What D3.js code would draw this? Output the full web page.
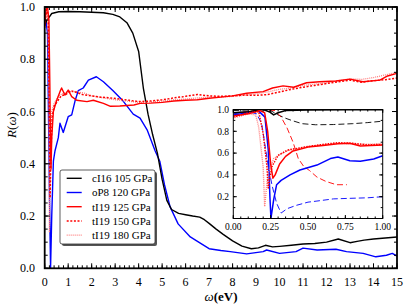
<!DOCTYPE html>
<html>
<head>
<meta charset="utf-8">
<script src="https://cdn.jsdelivr.net/npm/d3@7"></script>
<style>
  body { margin: 0; background: #fff; }
  svg { font-family: "Liberation Serif", serif; }
</style>
</head>
<body>
<svg width="407" height="304"></svg>
<script>
// main panel series, [omega (eV), R]
var cI16_105 = [[0,0.93],[0.1,0.95],[0.3,0.975],[0.6,0.982],[1,0.983],[1.5,0.982],[2,0.98],[2.5,0.978],[2.9,0.972],[3.2,0.962],[3.5,0.94],[3.75,0.9],[4.0,0.83],[4.2,0.69],[4.4,0.59],[4.6,0.51],[4.8,0.44],[5.0,0.34],[5.2,0.26],[5.4,0.225],[5.7,0.21],[6.0,0.205],[6.3,0.2],[6.6,0.196],[6.8,0.186],[7.0,0.172],[7.3,0.15],[7.6,0.13],[8.0,0.105],[8.4,0.085],[8.8,0.075],[9.1,0.078],[9.4,0.088],[9.7,0.082],[10,0.084],[10.5,0.088],[11,0.093],[11.5,0.095],[12,0.1],[12.5,0.112],[13,0.098],[13.3,0.103],[13.6,0.108],[14,0.112],[14.5,0.116],[15,0.12]];
var oP8_120 = [[0,0.93],[0.05,0.95],[0.12,0.9],[0.2,0.3],[0.25,0.0],[0.3,0.2],[0.37,0.41],[0.44,0.45],[0.58,0.5],[0.65,0.555],[0.79,0.52],[1.0,0.58],[1.15,0.587],[1.29,0.64],[1.43,0.68],[1.64,0.69],[1.86,0.72],[2.2,0.733],[2.5,0.714],[2.9,0.68],[3.34,0.64],[3.77,0.59],[4.06,0.575],[4.36,0.53],[4.7,0.45],[4.9,0.41],[5.1,0.32],[5.34,0.235],[5.68,0.17],[6.2,0.12],[6.47,0.105],[7.0,0.075],[7.5,0.068],[7.9,0.064],[8.6,0.055],[9.3,0.064],[9.45,0.07],[10,0.057],[10.7,0.064],[11,0.077],[11.6,0.07],[12.4,0.073],[12.85,0.064],[13.56,0.057],[14.1,0.044],[14.55,0.05],[14.8,0.057],[15,0.047]];
var tI19_125 = [[0,0.92],[0.06,0.99],[0.12,1.0],[0.18,0.95],[0.22,0.7],[0.25,0.45],[0.27,0.38],[0.3,0.5],[0.37,0.6],[0.5,0.64],[0.65,0.676],[0.72,0.69],[0.86,0.663],[1.0,0.682],[1.15,0.657],[1.36,0.643],[1.8,0.638],[2.07,0.643],[2.5,0.631],[2.8,0.62],[3.2,0.621],[3.8,0.625],[4.06,0.631],[4.5,0.632],[5.0,0.635],[5.5,0.64],[6.0,0.643],[6.5,0.645],[7.0,0.651],[7.5,0.655],[8.0,0.66],[8.6,0.67],[9.3,0.676],[9.7,0.69],[10.15,0.698],[10.6,0.693],[11.15,0.71],[11.7,0.714],[12.4,0.717],[13,0.724],[13.55,0.714],[14.27,0.72],[14.6,0.736],[15,0.746]];
var tI19_150 = [[0,0.93],[0.08,0.99],[0.15,0.97],[0.2,0.55],[0.23,0.27],[0.27,0.45],[0.32,0.58],[0.4,0.62],[0.55,0.64],[0.7,0.66],[0.9,0.665],[1.1,0.68],[1.3,0.675],[1.6,0.665],[2.0,0.66],[2.4,0.655],[2.8,0.652],[3.2,0.648],[3.6,0.643],[4.0,0.638],[4.5,0.64],[5.0,0.645],[5.5,0.652],[6.0,0.658],[6.5,0.665],[7.0,0.66],[7.5,0.658],[8.0,0.66],[8.5,0.663],[9.0,0.662],[9.5,0.665],[10,0.675],[10.5,0.685],[11,0.693],[11.5,0.7],[12,0.707],[12.5,0.714],[13,0.72],[13.5,0.712],[14,0.718],[14.5,0.722],[15,0.728]];
var tI19_180 = [[0,0.93],[0.05,0.98],[0.12,0.98],[0.17,0.7],[0.2,0.14],[0.24,0.45],[0.3,0.6],[0.4,0.63],[0.6,0.66],[0.8,0.67],[1.0,0.675],[1.36,0.676],[1.7,0.67],[2.0,0.66],[2.5,0.652],[3.0,0.645],[3.5,0.64],[4.0,0.635],[4.5,0.636],[5,0.64],[5.5,0.645],[6,0.648],[6.5,0.652],[7,0.655],[7.5,0.655],[8,0.658],[8.5,0.662],[9,0.668],[9.5,0.675],[10,0.685],[10.5,0.69],[11,0.7],[11.5,0.705],[12,0.71],[12.5,0.718],[13,0.725],[13.5,0.723],[14,0.73],[14.5,0.74],[15,0.75]];

// inset series (0 - 1 eV)
var insBlackSolid = [[0,0.97],[0.1,0.98],[0.15,0.99],[0.2,1.0],[0.24,0.98],[0.27,0.95],[0.3,0.97],[0.35,0.99],[0.5,0.995],[0.75,0.997],[1.0,0.998]];
var insBlackDash = [[0,0.99],[0.1,0.995],[0.2,1.0],[0.25,0.99],[0.3,0.95],[0.35,0.92],[0.39,0.9],[0.46,0.87],[0.55,0.86],[0.67,0.862],[0.8,0.87],[0.9,0.88],[1.0,0.893]];
var insBlueSolid = [[0,0.95],[0.1,0.97],[0.167,0.99],[0.212,0.93],[0.234,0.63],[0.245,0.2],[0.252,0.0],[0.27,0.17],[0.29,0.31],[0.32,0.35],[0.38,0.4],[0.446,0.445],[0.56,0.49],[0.65,0.55],[0.7,0.565],[0.78,0.53],[0.85,0.525],[0.94,0.546],[1.0,0.575]];
var insBlueDash = [[0,0.96],[0.1,0.98],[0.157,0.96],[0.19,0.87],[0.21,0.69],[0.234,0.48],[0.26,0.3],[0.29,0.14],[0.32,0.05],[0.36,0.09],[0.42,0.12],[0.5,0.15],[0.56,0.16],[0.67,0.18],[0.78,0.185],[0.9,0.19],[1.0,0.2]];
var insRedSolid = [[0,0.94],[0.1,0.96],[0.18,0.99],[0.21,0.97],[0.23,0.8],[0.25,0.5],[0.265,0.37],[0.28,0.4],[0.31,0.5],[0.35,0.57],[0.4,0.62],[0.5,0.655],[0.6,0.67],[0.7,0.685],[0.78,0.69],[0.85,0.665],[0.92,0.67],[1.0,0.675]];
var insRedDash = [[0,0.97],[0.1,0.98],[0.2,1.0],[0.28,0.99],[0.32,0.93],[0.36,0.83],[0.4,0.7],[0.435,0.55],[0.47,0.48],[0.51,0.44],[0.56,0.38],[0.62,0.34],[0.69,0.31],[0.76,0.31]];
var insRed150 = [[0,0.93],[0.1,0.97],[0.17,0.98],[0.2,0.78],[0.225,0.48],[0.234,0.28],[0.245,0.38],[0.26,0.48],[0.3,0.58],[0.37,0.63],[0.5,0.66],[0.6,0.68],[0.7,0.695],[0.8,0.69],[0.9,0.675],[1.0,0.68]];
var insRed180 = [[0,0.92],[0.1,0.96],[0.15,0.95],[0.17,0.84],[0.2,0.47],[0.21,0.11],[0.23,0.4],[0.27,0.55],[0.35,0.62],[0.5,0.66],[0.7,0.69],[0.85,0.68],[1.0,0.685]];

var xTicks = d3.range(0, 16, 1);
var yTicks = [0.0, 0.2, 0.4, 0.6, 0.8, 1.0];
var insXTicks = [0, 0.25, 0.5, 0.75, 1.0];
var insYTicks = [0.2, 0.4, 0.6, 0.8, 1.0];

var legendNames = ["cI16 105 GPa", "oP8 120 GPa", "tI19 125 GPa", "tI19 150 GPa", "tI19 180 GPa"];

var svg = d3.select("svg");

// main scales
var x = d3.scaleLinear().domain([0, 15]).range([44.7, 397]);
var y = d3.scaleLinear().domain([0, 1]).range([268.3, 7]);

// line styles for the five series
var styles = [
    { color: "#000", dash: null, width: 1.4 },
    { color: "#0000ff", dash: null, width: 1.4 },
    { color: "#ff0000", dash: null, width: 1.4 },
    { color: "#ff0000", dash: "2,1.6", width: 1.5 },
    { color: "#ff8080", dash: "1,1", width: 1.3 }
];
var mainSeries = [cI16_105, oP8_120, tI19_125, tI19_150, tI19_180];

svg.append("defs").append("clipPath").attr("id", "clipMain")
    .append("rect").attr("x", 44.7).attr("y", 7).attr("width", 397 - 44.7).attr("height", 268.3 - 7);

var line = d3.line()
    .x(function (d) { return x(d[0]); })
    .y(function (d) { return y(d[1]); });

var gMain = svg.append("g").attr("clip-path", "url(#clipMain)");
// draw back to front so red lies on top like the original
[1, 0, 4, 3, 2].forEach(function (i) {
    gMain.append("path")
        .attr("d", line(mainSeries[i]))
        .attr("fill", "none")
        .attr("stroke", styles[i].color)
        .attr("stroke-width", styles[i].width)
        .attr("stroke-dasharray", styles[i].dash)
        .attr("stroke-linejoin", "round");
});

// ticks on all four sides, pointing inward
function drawTicks(g, xs, ys, xMaj, xMin, yMaj, yMin, majLen, minLen) {
    var x0 = xs.range()[0], x1 = xs.range()[1];
    var y0 = ys.range()[0], y1 = ys.range()[1];
    function tk(vals, len) {
        vals.forEach(function (v) {
            var px = xs(v);
            g.append("line").attr("x1", px).attr("x2", px).attr("y1", y0).attr("y2", y0 - len);
            g.append("line").attr("x1", px).attr("x2", px).attr("y1", y1).attr("y2", y1 + len);
        });
    }
    function tky(vals, len) {
        vals.forEach(function (v) {
            var py = ys(v);
            g.append("line").attr("y1", py).attr("y2", py).attr("x1", x0).attr("x2", x0 + len);
            g.append("line").attr("y1", py).attr("y2", py).attr("x1", x1).attr("x2", x1 - len);
        });
    }
    tk(xMin, minLen); tk(xMaj, majLen);
    tky(yMin, minLen); tky(yMaj, majLen);
    g.selectAll("line").attr("stroke", "#000").attr("stroke-width", 1);
}

var gTicks = svg.append("g");
drawTicks(gTicks, x, y, xTicks, d3.range(0, 15.01, 0.2), yTicks, d3.range(0, 1.001, 0.05), 5, 3);

svg.append("rect")
    .attr("x", 44.7).attr("y", 7).attr("width", 397 - 44.7).attr("height", 268.3 - 7)
    .attr("fill", "none").attr("stroke", "#000").attr("stroke-width", 1.8);

// main tick labels
svg.append("g").selectAll("text").data(xTicks).enter().append("text")
    .attr("x", function (d) { return x(d); })
    .attr("y", 285.5)
    .attr("text-anchor", "middle")
    .attr("font-size", 12)
    .text(function (d) { return d; });

svg.append("g").selectAll("text").data(yTicks).enter().append("text")
    .attr("x", 35)
    .attr("y", function (d) { return y(d) + 4; })
    .attr("text-anchor", "end")
    .attr("font-size", 12)
    .text(function (d) { return d.toFixed(1); });

// axis titles
var xl = svg.append("text").attr("x", 221).attr("y", 300.5).attr("text-anchor", "middle").attr("font-size", 13);
xl.append("tspan").attr("font-style", "italic").text("ω");
xl.append("tspan").attr("font-weight", "bold").text("(eV)");

var yl = svg.append("text").attr("transform", "translate(16,125) rotate(-90)")
    .attr("text-anchor", "middle").attr("font-size", 13);
yl.append("tspan").attr("font-style", "italic").text("R");
yl.append("tspan").text("(");
yl.append("tspan").attr("font-style", "italic").text("ω");
yl.append("tspan").text(")");

// legend
var leg = svg.append("g");
leg.append("rect").attr("x", 62).attr("y", 172).attr("width", 95).attr("height", 74)
    .attr("rx", 2).attr("fill", "#555");
leg.append("rect").attr("x", 60).attr("y", 170).attr("width", 95).attr("height", 74)
    .attr("rx", 2).attr("fill", "#fff").attr("stroke", "#333").attr("stroke-width", 0.8);
legendNames.forEach(function (name, i) {
    var ly = 178.3 + i * 14.2;
    leg.append("line").attr("x1", 66.7).attr("x2", 81.7).attr("y1", ly).attr("y2", ly)
        .attr("stroke", styles[i].color).attr("stroke-width", styles[i].width)
        .attr("stroke-dasharray", styles[i].dash);
    leg.append("text").attr("x", 92).attr("y", ly + 3.8).attr("font-size", 11).text(name);
});

// inset
var xi = d3.scaleLinear().domain([0, 1]).range([233.3, 382.7]);
var yi = d3.scaleLinear().domain([0, 1]).range([218.5, 109.5]);

svg.append("rect").attr("x", 233.3).attr("y", 109.5).attr("width", 382.7 - 233.3).attr("height", 218.5 - 109.5)
    .attr("fill", "#fff");

svg.select("defs").append("clipPath").attr("id", "clipIns")
    .append("rect").attr("x", 233.3).attr("y", 109.5).attr("width", 382.7 - 233.3).attr("height", 218.5 - 109.5);

var lineI = d3.line()
    .x(function (d) { return xi(d[0]); })
    .y(function (d) { return yi(d[1]); });

var insSeries = [
    { d: insBlackDash, color: "#000", dash: "6,3", width: 0.9 },
    { d: insBlueDash, color: "#0000ff", dash: "6,3", width: 0.9 },
    { d: insRedDash, color: "#ff0000", dash: "6,3", width: 0.9 },
    { d: insBlueSolid, color: "#0000ff", dash: null, width: 1.5 },
    { d: insBlackSolid, color: "#000", dash: null, width: 1.5 },
    { d: insRed180, color: "#ff8080", dash: "1,1", width: 1.4 },
    { d: insRed150, color: "#ff0000", dash: "1.5,1.2", width: 1.5 },
    { d: insRedSolid, color: "#ff0000", dash: null, width: 1.5 }
];

var gIns = svg.append("g").attr("clip-path", "url(#clipIns)");
insSeries.forEach(function (s) {
    gIns.append("path")
        .attr("d", lineI(s.d))
        .attr("fill", "none")
        .attr("stroke", s.color)
        .attr("stroke-width", s.width)
        .attr("stroke-dasharray", s.dash)
        .attr("stroke-linejoin", "round");
});

var gTicksI = svg.append("g");
drawTicks(gTicksI, xi, yi, insXTicks, d3.range(0, 1.001, 0.05), [0].concat(insYTicks), d3.range(0, 1.001, 0.1), 3.5, 2);

svg.append("rect")
    .attr("x", 233.3).attr("y", 109.5).attr("width", 382.7 - 233.3).attr("height", 218.5 - 109.5)
    .attr("fill", "none").attr("stroke", "#000").attr("stroke-width", 1);

svg.append("g").selectAll("text").data(insXTicks).enter().append("text")
    .attr("x", function (d) { return xi(d); })
    .attr("y", 229.5)
    .attr("text-anchor", "middle")
    .attr("font-size", 9.5)
    .text(function (d) { return d.toFixed(2); });

svg.append("g").selectAll("text").data(insYTicks).enter().append("text")
    .attr("x", 229)
    .attr("y", function (d) { return yi(d) + 3.3; })
    .attr("text-anchor", "end")
    .attr("font-size", 9.5)
    .text(function (d) { return d.toFixed(1); });
</script>
</body>
</html>
